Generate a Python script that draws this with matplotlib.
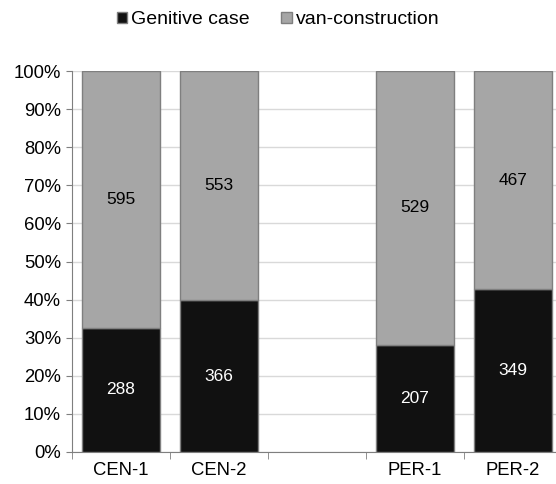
import numpy as np
import matplotlib.pyplot as plt
from matplotlib.patches import Patch

plt.rcParams['font.family'] = ['Liberation Sans', 'DejaVu Sans']

categories = ['CEN-1', 'CEN-2', '', 'PER-1', 'PER-2']
genitive = [288, 366, 0, 207, 349]
van = [595, 553, 0, 529, 467]

gen = np.array(genitive, dtype=float)
vc = np.array(van, dtype=float)
tot = gen + vc
has = tot > 0
gen_pct = np.where(has, gen / np.where(has, tot, 1), 0)
van_pct = np.where(has, vc / np.where(has, tot, 1), 0)

fig = plt.figure(figsize=(5.56, 4.84), dpi=100)
ax = fig.add_axes([72 / 556, 1 - 452 / 484, 490 / 556, 381 / 484])

x = np.arange(len(categories))
w = 0.79
edge = '#7f7f7f'
ax.bar(x[has], gen_pct[has], w, color='#111111', edgecolor=edge, linewidth=1, zorder=3)
ax.bar(x[has], van_pct[has], w, bottom=gen_pct[has], color='#a6a6a6',
       edgecolor=edge, linewidth=1, zorder=3)

for i in x[has]:
    ax.text(i, gen_pct[i] / 2, str(genitive[i]), ha='center', va='center',
            color='white', fontsize=12.5, zorder=4)
    ax.text(i, gen_pct[i] + van_pct[i] / 2, str(van[i]), ha='center', va='center',
            color='black', fontsize=12.5, zorder=4)

ax.set_xlim(-0.5, len(categories) - 0.5)
ax.set_ylim(0, 1)
ax.set_yticks(np.linspace(0, 1, 11))
ax.set_yticklabels([f'{int(v)}%' for v in np.linspace(0, 100, 11)], fontsize=13.3)
ax.set_xticks(x)
ax.set_xticklabels(categories, fontsize=13.3)
ax.set_xticks(np.arange(-0.5, len(categories)), minor=True)
ax.tick_params(axis='x', which='major', length=0, pad=7)
ax.tick_params(axis='x', which='minor', length=5, color=edge, direction='out')
ax.tick_params(axis='y', length=4, color=edge, direction='out', pad=4)
ax.yaxis.grid(True, color='#d9d9d9', linewidth=1, zorder=0)
ax.set_axisbelow(True)
for s in ['top', 'right']:
    ax.spines[s].set_visible(False)
for s in ['left', 'bottom']:
    ax.spines[s].set_color(edge)

handles = [Patch(facecolor='#111111', edgecolor=edge, label='Genitive case'),
           Patch(facecolor='#a6a6a6', edgecolor=edge, label='van-construction')]
fig.legend(handles=handles, loc='center', bbox_to_anchor=(0.5, 1 - 20 / 484), ncol=2,
           frameon=False, fontsize=14, handlelength=0.55, handleheight=0.55,
           handletextpad=0.2, columnspacing=1.6)

fig.savefig('out.png', dpi=100)
